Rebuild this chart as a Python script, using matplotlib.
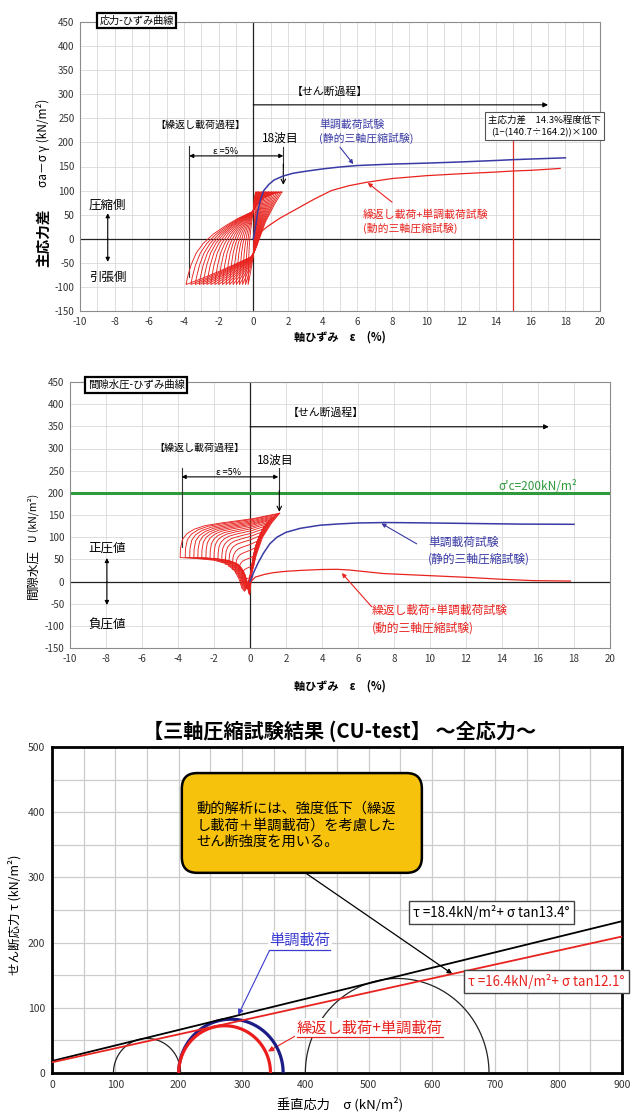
import numpy as np
import matplotlib.pyplot as plt
from matplotlib.patches import FancyBboxPatch

plt.rcParams['font.family'] = ['Noto Sans CJK JP', 'DejaVu Sans']
plt.rcParams['axes.unicode_minus'] = False

RED = '#e8231f'
BLUE = '#3a3aa6'
GREEN = '#2f9a3c'
GRID = '#d9d9d9'

# ---- stress-strain: monotonic (static) triaxial test
mono_eps = [0, 0.1, 0.25, 0.4, 0.6, 0.9, 1.2, 1.7, 2.3, 3, 4, 5, 6, 8, 10, 12, 14, 15, 16, 18]
mono_q = [0, 20, 55, 80, 100, 113, 122, 130, 136, 140, 145, 149, 152, 155, 157, 159.5, 162.5, 164.2, 165.5, 168]

# ---- stress-strain: shear stage after cyclic loading
cyc_eps = [0.3, 0.8, 1.5, 2.0, 2.7, 3.5, 4.5, 5.5, 6.5, 8, 10, 12, 14, 15, 16, 17.7]
cyc_q = [10, 25, 42, 52, 66, 82, 100, 110, 117, 125, 131, 135, 138.5, 140.7, 142, 146]

# peak strains of the 18 load cycles (extension / compression side)
cycle_eps_min = [-0.3, -0.45, -0.62, -0.8, -0.98, -1.17, -1.37, -1.57, -1.78,
                 -2.0, -2.22, -2.45, -2.68, -2.9, -3.12, -3.35, -3.6, -3.88]
cycle_eps_max = [0.15, 0.22, 0.3, 0.38, 0.46, 0.54, 0.62, 0.7, 0.79,
                 0.88, 0.97, 1.06, 1.15, 1.25, 1.35, 1.45, 1.55, 1.65]

# 18th stress-strain loop (compression peak -> extension peak -> compression peak)
loop_q_eps = [1.65, 1.2, 0.7, 0.2, 0.05, -0.15, -1.0, -2.0, -3.0, -3.88,
              -3.8, -3.6, -3.3, -2.9, -2.3, -1.6, -0.9, -0.3, -0.05, 0.2, 0.6, 1.2, 1.65]
loop_q = [97, 70, 35, -15, -28, -38, -52, -68, -83, -95,
          -80, -55, -30, -10, 10, 27, 42, 52, 56, 70, 85, 94, 97]

# ---- pore pressure: monotonic test
mono_u_eps = [0, 0.2, 0.45, 0.75, 1.1, 1.5, 2.0, 2.8, 3.9, 5, 6, 7.5, 9, 11, 13, 15, 18]
mono_u = [0, 20, 42, 64, 85, 100, 111, 120, 127, 130, 132, 133, 132.5, 131.5, 130.5, 129.5, 129]

# ---- pore pressure: shear stage after cyclic loading
cyc_u_eps = [0.05, 0.3, 0.8, 1.3, 2.0, 2.8, 3.9, 4.8, 5.5, 7.4, 9, 12, 14, 15.7, 17.8]
cyc_u = [0, 10, 16, 20, 23, 25, 27, 27.5, 26, 18, 15, 9.5, 5, 2, 1]

# 18th pore-pressure loop
loop_u_eps = [1.65, 1.2, 0.7, 0.35, 0.12, -0.1, -0.3, -0.45, -0.6, -0.85, -1.3, -2.0, -3.0, -3.88,
              -3.86, -3.75, -3.5, -3.1, -2.5, -1.6, -0.7, 0.2, 0.9, 1.65]
loop_u = [154, 132, 100, 60, 22, -8, -22, -15, 5, 24, 40, 48, 52, 54,
          75, 95, 108, 118, 126, 132, 137, 142, 148, 154]

# pore pressure range reached in each cycle
cycle_u_min = [-30, -29, -27, -25, -22, -19, -16, -13, -11, -10, -10, -11, -12, -14, -16, -18, -20, -22]
cycle_u_max = [12, 38, 60, 78, 92, 103, 111, 118, 124, 129, 133, 137, 140, 143, 146, 149, 152, 154]

SIGMA_C = 200
EPS_COMPARE = 15.0

# ---- Mohr circles (sigma3, sigma1) in kN/m2
mohr_black_s3 = [97, 400]
mohr_black_s1 = [203, 690]
mohr_blue = (200, 365)
mohr_red = (200, 345)

# strength envelopes: cohesion (kN/m2), friction angle (deg)
env_static = (18.4, 13.4)
env_dynamic = (16.4, 12.1)


def scale_eps(eps_tmpl, e_min, e_max):
    e = np.asarray(eps_tmpl, dtype=float)
    return np.where(e < 0, e * e_min / e.min(), e * e_max / e.max())


def px(x, y):
    return x / 639, 1 - y / 1113


def strain_axes(ax, xgrid):
    ax.set_xlim(-10, 20)
    ax.set_ylim(-150, 450)
    ax.set_xticks(range(-10, 21, 2))
    ax.set_yticks(range(-150, 451, 50))
    ax.set_xticks(np.arange(-10, 21, xgrid), minor=True)
    ax.grid(which='both', color=GRID, lw=0.6)
    ax.set_axisbelow(True)
    ax.tick_params(which='both', length=0, labelsize=7, pad=4, colors='#333333')
    for s in ax.spines.values():
        s.set_color('#8c8c8c')
        s.set_linewidth(0.8)
    ax.axhline(0, color='#222222', lw=0.9, zorder=1)
    ax.axvline(0, color='#222222', lw=0.9, zorder=1)


def arrow(ax, x0, y0, x1, y1, style='-|>', color='black', lw=0.8, ms=7):
    ax.annotate('', xy=(x1, y1), xytext=(x0, y0),
                arrowprops=dict(arrowstyle=style, color=color, lw=lw,
                                mutation_scale=ms, shrinkA=0, shrinkB=0))


fig = plt.figure(figsize=(6.39, 11.13), dpi=100)

# ================= stress-strain curve
ax1 = fig.add_axes([80 / 639, 1 - 311 / 1113, 520 / 639, 289 / 1113])
strain_axes(ax1, 1)

for e_lo, e_hi in zip(cycle_eps_min, cycle_eps_max):
    ax1.plot(scale_eps(loop_q_eps, e_lo, e_hi), loop_q, color=RED, lw=0.65, zorder=3)
ax1.plot(cyc_eps, cyc_q, color=RED, lw=0.9, zorder=3)
ax1.plot(mono_eps, mono_q, color=BLUE, lw=1.1, zorder=4)

ax1.plot([EPS_COMPARE, EPS_COMPARE], [-150, 205], color='#d8302c', lw=0.9, zorder=2)
ax1.text(16.8, 234, '主応力差　14.3%程度低下\n(1−(140.7÷164.2))×100', fontsize=6.8,
         ha='center', va='center', linespacing=1.45,
         bbox=dict(boxstyle='square,pad=0.35', fc='white', ec='#555555', lw=0.8))

ax1.text(-6.74, 453, '応力-ひずみ曲線', fontsize=7.3, ha='center', va='center',
         bbox=dict(boxstyle='square,pad=0.25', fc='white', ec='black', lw=1.6))
ax1.text(4.4, 305, '【せん断過程】', fontsize=7.8, ha='center', va='center')
arrow(ax1, 0, 278, 17.0, 278)
ax1.text(-3.06, 236, '【繰返し載荷過程】', fontsize=7.2, ha='center', va='center')
ax1.text(1.56, 209, '18波目', fontsize=8.5, ha='center', va='center')
ax1.plot([-3.7, -3.7], [192, -80], color='#333333', lw=0.8)
ax1.plot([1.73, 1.73], [190, 150], color='#333333', lw=0.8)
arrow(ax1, 1.73, 155, 1.73, 112, style='->', ms=8)
arrow(ax1, -3.7, 172, 1.73, 172, style='<|-|>', ms=6)
ax1.text(-1.6, 181, 'ε =5%', fontsize=6.5, ha='center', va='center')

ax1.text(-8.4, 70, '圧縮側', fontsize=9, ha='center', va='center')
arrow(ax1, -8.4, 0, -8.4, 53, ms=6)
arrow(ax1, -8.4, 0, -8.4, -48, ms=6)
ax1.text(-8.4, -81, '引張側', fontsize=9, ha='center', va='center')

ax1.text(3.8, 222, '単調載荷試験\n(静的三軸圧縮試験)', color=BLUE, fontsize=7.8,
         ha='left', va='center', linespacing=1.35)
arrow(ax1, 5.0, 190, 5.77, 155, color=BLUE, ms=6)
ax1.text(6.3, 36, '繰返し載荷+単調載荷試験\n(動的三軸圧縮試験)', color=RED, fontsize=7.8,
         ha='left', va='center', linespacing=1.35)
arrow(ax1, 8.0, 76, 6.6, 116, color=RED, ms=6)

fig.text(*px(43, 238), '主応力差', rotation=90, fontsize=10.5, fontweight='bold',
         ha='center', va='center')
fig.text(*px(43, 143), 'σa－σ γ (kN/m²)', rotation=90, fontsize=8.5,
         ha='center', va='center')
fig.text(*px(340, 337), '軸ひずみ　ε　(%)', fontsize=8, fontweight='bold',
         ha='center', va='center')

# ================= pore pressure curve
ax2 = fig.add_axes([70 / 639, 1 - 648 / 1113, 540 / 639, 266 / 1113])
strain_axes(ax2, 2)

u_tmpl = np.asarray(loop_u, dtype=float)
for e_lo, e_hi, u_lo, u_hi in zip(cycle_eps_min, cycle_eps_max, cycle_u_min, cycle_u_max):
    u = u_lo + (u_tmpl - u_tmpl.min()) / (u_tmpl.max() - u_tmpl.min()) * (u_hi - u_lo)
    ax2.plot(scale_eps(loop_u_eps, e_lo, e_hi), u, color=RED, lw=0.65, zorder=3)
ax2.plot(cyc_u_eps, cyc_u, color=RED, lw=0.9, zorder=3)
ax2.plot(mono_u_eps, mono_u, color=BLUE, lw=1.1, zorder=4)

ax2.axhline(SIGMA_C, color=GREEN, lw=2.2, zorder=2)
ax2.text(18.2, SIGMA_C + 15, "σ'c=200kN/m²", color=GREEN, fontsize=8.5, ha='right', va='center')

ax2.text(-6.33, 443, '間隙水圧-ひずみ曲線', fontsize=7.5, ha='center', va='center',
         bbox=dict(boxstyle='square,pad=0.25', fc='white', ec='black', lw=1.6))
ax2.text(4.2, 380, '【せん断過程】', fontsize=7.8, ha='center', va='center')
arrow(ax2, 0, 349, 16.6, 349)
ax2.text(-2.8, 301, '【繰返し載荷過程】', fontsize=7.2, ha='center', va='center')
ax2.text(1.4, 274, '18波目', fontsize=8.5, ha='center', va='center')
ax2.plot([-3.8, -3.8], [256, 78], color='#333333', lw=0.8)
ax2.plot([1.63, 1.63], [256, 200], color='#333333', lw=0.8)
arrow(ax2, 1.63, 205, 1.63, 157, style='->', ms=8)
arrow(ax2, -3.8, 236, 1.57, 236, style='<|-|>', ms=6)
ax2.text(-1.2, 245, 'ε =5%', fontsize=6.5, ha='center', va='center')

ax2.text(-7.95, 76, '正圧値', fontsize=9, ha='center', va='center')
arrow(ax2, -7.95, 0, -7.95, 53, ms=6)
arrow(ax2, -7.95, 0, -7.95, -53, ms=6)
ax2.text(-7.95, -98, '負圧値', fontsize=9, ha='center', va='center')

ax2.text(9.9, 70, '単調載荷試験\n(静的三軸圧縮試験)', color=BLUE, fontsize=8.5,
         ha='left', va='center', linespacing=1.4)
arrow(ax2, 9.26, 85, 7.3, 131, color=BLUE, ms=6)
ax2.text(6.76, -85, '繰返し載荷+単調載荷試験\n(動的三軸圧縮試験)', color=RED, fontsize=8.5,
         ha='left', va='center', linespacing=1.4)
arrow(ax2, 6.76, -57, 5.1, 19, color=RED, ms=6)

fig.text(*px(33, 574), '間隙水圧', rotation=90, fontsize=9, ha='center', va='center')
fig.text(*px(33, 518), 'U (kN/m²)', rotation=90, fontsize=7.5, ha='center', va='center')
fig.text(*px(340, 686), '軸ひずみ　ε　(%)', fontsize=8, fontweight='bold',
         ha='center', va='center')

# ================= Mohr circles, total stress
ax3 = fig.add_axes([52 / 639, 1 - 1073 / 1113, 570 / 639, 326 / 1113])
ax3.set_xlim(0, 900)
ax3.set_ylim(0, 500)
ax3.set_xticks(range(0, 901, 100))
ax3.set_yticks(range(0, 501, 100))
ax3.set_xticks(range(0, 901, 50), minor=True)
ax3.set_yticks(range(0, 501, 50), minor=True)
ax3.grid(which='both', color='#cccccc', lw=0.9)
ax3.set_axisbelow(True)
ax3.tick_params(which='both', length=0, labelsize=7.5, pad=5, colors='#333333')
for s in ax3.spines.values():
    s.set_color('black')
    s.set_linewidth(2)

theta = np.linspace(0, np.pi, 200)


def mohr(ax, s3, s1, **kw):
    c, r = (s1 + s3) / 2, (s1 - s3) / 2
    ax.plot(c + r * np.cos(theta), r * np.sin(theta), **kw)


for s3, s1 in zip(mohr_black_s3, mohr_black_s1):
    mohr(ax3, s3, s1, color='#222222', lw=0.9, zorder=3)
mohr(ax3, *mohr_blue, color='#1c1c86', lw=2.3, zorder=4)
mohr(ax3, *mohr_red, color='#ec1c1c', lw=2.3, zorder=4)

sig = np.array([0, 900])
for (c, phi), col in [(env_static, 'black'), (env_dynamic, RED)]:
    ax3.plot(sig, c + sig * np.tan(np.radians(phi)), color=col, lw=1.3, zorder=5)

ax3.add_patch(FancyBboxPatch((205, 307), 379, 153, boxstyle='round,pad=0,rounding_size=24',
                             fc='#f7c20c', ec='black', lw=1.8, zorder=6))
ax3.text(228, 380, '動的解析には、強度低下（繰返\nし載荷＋単調載荷）を考慮した\nせん断強度を用いる。',
         fontsize=10.3, ha='left', va='center', linespacing=1.2, zorder=7)
arrow(ax3, 400, 307, 632, 152, ms=7, lw=0.9)

ax3.text(694, 246, 'τ =18.4kN/m²+ σ tan13.4°', fontsize=9.6, ha='center', va='center', zorder=7,
         bbox=dict(boxstyle='square,pad=0.3', fc='white', ec='#444444', lw=1))
ax3.text(781, 140, 'τ =16.4kN/m²+ σ tan12.1°', fontsize=9.6, color=RED, ha='center',
         va='center', zorder=7,
         bbox=dict(boxstyle='square,pad=0.3', fc='white', ec='#444444', lw=1))

t_blue = ax3.text(391, 203, '単調載荷', fontsize=11, color='#3b3bd0', ha='center',
                  va='center', zorder=7,
                  bbox=dict(boxstyle='square,pad=0.1', fc='white', ec='none'))
arrow(ax3, 344, 189, 294, 89, color='#3b3bd0', ms=8)
t_red = ax3.text(502, 69, '繰返し載荷+単調載荷', fontsize=11, color=RED, ha='center',
                 va='center', zorder=7,
                 bbox=dict(boxstyle='square,pad=0.1', fc='white', ec='none'))
arrow(ax3, 410, 71, 341, 33, color=RED, ms=8)

# underline the two circle labels
fig.canvas.draw()
inv = ax3.transData.inverted()
for t, col in [(t_blue, '#3b3bd0'), (t_red, RED)]:
    bb = t.get_window_extent()
    (x0, y0), (x1, _) = inv.transform([(bb.x0, bb.y0), (bb.x1, bb.y1)])
    ax3.plot([x0, x1], [y0 - 1, y0 - 1], color=col, lw=0.9, zorder=8)

fig.text(*px(340, 731), '【三軸圧縮試験結果 (CU-test】 ～全応力～', fontsize=14.5,
         fontweight='bold', ha='center', va='center')
fig.text(*px(15, 915), 'せん断応力 τ (kN/m²)', rotation=90, fontsize=9, ha='center', va='center')
fig.text(*px(340, 1104), '垂直応力　σ (kN/m²)', fontsize=9.5, ha='center', va='center')

fig.savefig('out.png', dpi=100)
